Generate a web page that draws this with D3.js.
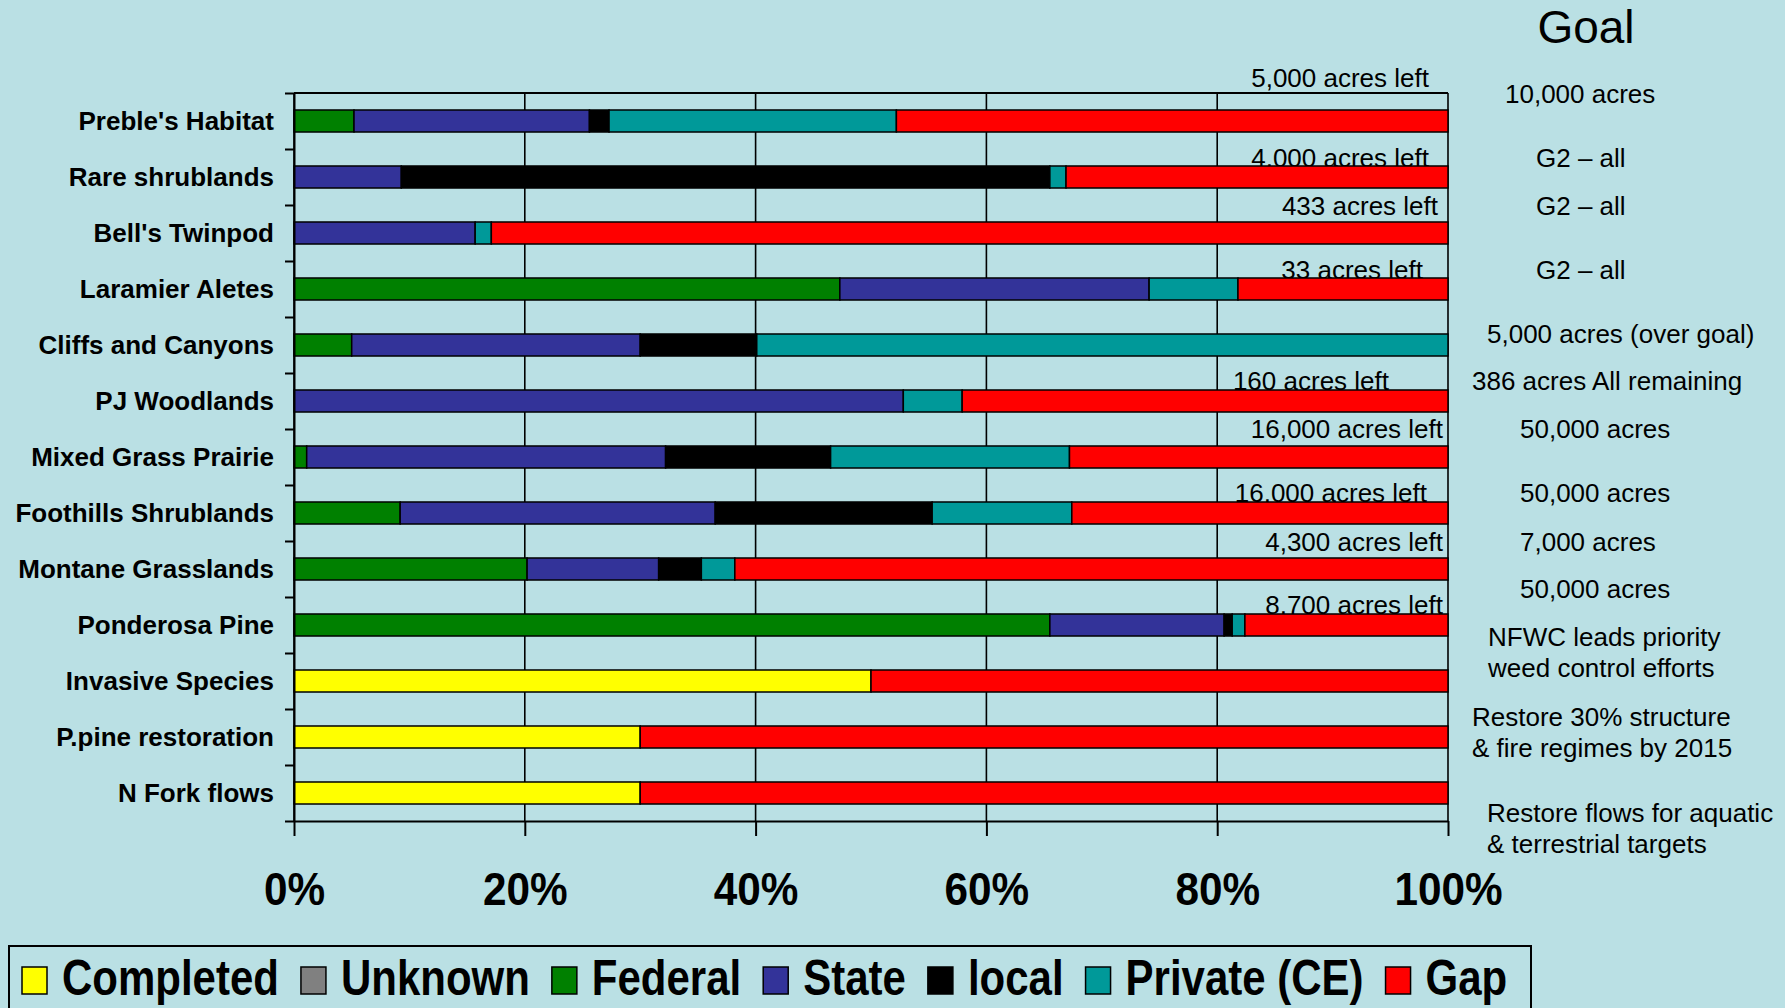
<!DOCTYPE html>
<html>
<head>
<meta charset="utf-8">
<script src="https://cdn.jsdelivr.net/npm/d3@7"></script>
<style>
  body { margin: 0; background: #bae0e4; }
  svg { display: block; font-family: "Liberation Sans", Arial, sans-serif; }
</style>
</head>
<body>
<script>
// categories, top to bottom
var categories = ["Preble's Habitat", "Rare shrublands", "Bell's Twinpod", "Laramier Aletes",
  "Cliffs and Canyons", "PJ Woodlands", "Mixed Grass Prairie", "Foothills Shrublands",
  "Montane Grasslands", "Ponderosa Pine", "Invasive Species", "P.pine restoration", "N Fork flows"];

// series (percent of each row)
var seriesNames = ["Completed", "Unknown", "Federal", "State", "local", "Private (CE)", "Gap"];
var completed = [0, 0, 0, 0, 0, 0, 0, 0, 0, 0, 50, 30, 30];
var unknown   = [0, 0, 0, 0, 0, 0, 0, 0, 0, 0, 0, 0, 0];
var federal   = [5.2, 0, 0, 47.3, 5.0, 0, 1.1, 9.2, 20.2, 65.5, 0, 0, 0];
var state     = [20.4, 9.3, 15.7, 26.8, 25.0, 52.8, 31.1, 27.3, 11.4, 15.1, 0, 0, 0];
var local     = [1.7, 56.2, 0, 0, 10.1, 0, 14.3, 18.8, 3.7, 0.7, 0, 0, 0];
var privateCE = [24.9, 1.4, 1.4, 7.7, 59.9, 5.1, 20.7, 12.1, 2.9, 1.1, 0, 0, 0];
var gap       = [47.8, 33.1, 82.9, 18.2, 0, 42.1, 32.8, 32.6, 61.8, 17.6, 50, 70, 70];
var seriesColors = ["#ffff00", "#808080", "#008000", "#333399", "#000000", "#009999", "#ff0000"];

var xTickValues = [0, 20, 40, 60, 80, 100];
var xTickLabels = ["0%", "20%", "40%", "60%", "80%", "100%"];

// annotations
var acresLeft = ["5,000 acres left", "4,000 acres left", "433 acres left", "33 acres left", null,
  "160 acres left", "16,000 acres left", "16,000 acres left", "4,300 acres left", "8,700 acres left",
  null, null, null];
var goalTitle = "Goal";
var goalText = [["10,000 acres"], ["G2 \u2013 all"], ["G2 \u2013 all"], ["G2 \u2013 all"],
  ["5,000 acres (over goal)"], ["386 acres All remaining"], ["50,000 acres"], ["50,000 acres"],
  ["7,000 acres"], ["50,000 acres"], ["NFWC leads priority", "weed control efforts"],
  ["Restore 30% structure", "& fire regimes by 2015"], ["Restore flows for aquatic", "& terrestrial targets"]];

// layout tweaks for the annotations (pixels)
var leftDx = [-19, -19, -10, -25, 0, -59, -5, -21, -5, -5, 0, 0, 0];   // from 100% line
var leftDy = [-23, 1, -7, 1, 0, 0, -8, 0, -7, 0, 0, 0, 0];           // from bar top
var goalX = [1505, 1536, 1536, 1536, 1487, 1472, 1520, 1520, 1520, 1520, 1488, 1472, 1487];
var goalY = [103, 167, 215, 279, 343, 390, 438, 502, 551, 598, 646, 726, 822];

var W = 1785, H = 1008;
var margin = {top: 93, left: 294, right: 1448, bottom: 821};

var svg = d3.select("body").append("svg")
  .attr("width", W)
  .attr("height", H);

svg.append("rect").attr("width", W).attr("height", H).attr("fill", "#bae0e4");

var x = d3.scaleLinear().domain([0, 100]).range([margin.left, margin.right]);
var y = d3.scaleBand().domain(categories).range([margin.top, margin.bottom])
  .paddingInner(0.607).paddingOuter(0.3035);

// build rows for the stack
var cols = [completed, unknown, federal, state, local, privateCE, gap];
var rows = categories.map(function(c, i) {
  var r = {cat: c};
  seriesNames.forEach(function(s, j) { r[s] = cols[j][i]; });
  return r;
});
var stacked = d3.stack().keys(seriesNames)(rows);

// gridlines
svg.append("g")
  .selectAll("line")
  .data(xTickValues)
  .join("line")
  .attr("x1", function(d) { return x(d); })
  .attr("x2", function(d) { return x(d); })
  .attr("y1", margin.top)
  .attr("y2", margin.bottom)
  .attr("stroke", "#000")
  .attr("stroke-width", 1.6);

// top border
svg.append("line")
  .attr("x1", margin.left).attr("x2", margin.right)
  .attr("y1", margin.top).attr("y2", margin.top)
  .attr("stroke", "#000").attr("stroke-width", 2);

// "acres left" text sits behind the bars
svg.append("g")
  .selectAll("text")
  .data(categories.map(function(c, i) { return {cat: c, t: acresLeft[i], i: i}; })
    .filter(function(d) { return d.t; }))
  .join("text")
  .attr("x", function(d) { return x(100) + leftDx[d.i]; })
  .attr("y", function(d) { return y(d.cat) + leftDy[d.i]; })
  .attr("text-anchor", "end")
  .attr("font-size", 26)
  .attr("fill", "#000")
  .text(function(d) { return d.t; });

// bars
svg.append("g")
  .selectAll("g")
  .data(stacked)
  .join("g")
  .attr("fill", function(d, i) { return seriesColors[i]; })
  .selectAll("rect")
  .data(function(d) { return d.filter(function(p) { return p[1] - p[0] > 0; }); })
  .join("rect")
  .attr("x", function(d) { return x(d[0]); })
  .attr("y", function(d) { return y(d.data.cat); })
  .attr("width", function(d) { return x(d[1]) - x(d[0]); })
  .attr("height", y.bandwidth())
  .attr("stroke", "#000")
  .attr("stroke-width", 1.5);

// y axis with ticks at band boundaries
var yb = d3.scaleLinear().domain([0, categories.length]).range([margin.top, margin.bottom]);
svg.append("g")
  .attr("transform", "translate(" + margin.left + ",0)")
  .call(d3.axisLeft(yb).ticks(categories.length).tickFormat("").tickSize(9).tickSizeOuter(0))
  .call(function(g) {
    g.select(".domain").attr("stroke-width", 2);
    g.selectAll(".tick line").attr("stroke-width", 2);
  });

// category labels
svg.append("g")
  .selectAll("text")
  .data(categories)
  .join("text")
  .attr("x", 274)
  .attr("y", function(d) { return y(d) + y.bandwidth() / 2 + 9; })
  .attr("text-anchor", "end")
  .attr("font-size", 26)
  .attr("font-weight", "bold")
  .attr("fill", "#000")
  .text(function(d) { return d; });

// x axis
svg.append("g")
  .attr("transform", "translate(0," + margin.bottom + ")")
  .call(d3.axisBottom(x).tickValues(xTickValues)
    .tickFormat(function(d, i) { return xTickLabels[i]; })
    .tickSize(15).tickSizeOuter(0))
  .call(function(g) {
    g.select(".domain").attr("stroke-width", 2);
    g.selectAll(".tick line").attr("stroke-width", 2);
    g.selectAll(".tick text")
      .attr("y", 84).attr("dy", 0)
      .attr("font-size", 47)
      .attr("font-weight", "bold")
      .attr("font-family", "Liberation Sans, Arial, sans-serif")
      .attr("fill", "#000")
      .attr("transform", "scale(0.9,1)");
  });

// Goal column
svg.append("text")
  .attr("x", 1586).attr("y", 43)
  .attr("text-anchor", "middle")
  .attr("font-size", 46)
  .attr("fill", "#000")
  .text(goalTitle);

var goal = svg.append("g")
  .selectAll("text")
  .data(goalText)
  .join("text")
  .attr("font-size", 26)
  .attr("fill", "#000");
goal.selectAll("tspan")
  .data(function(d, i) { return d.map(function(t) { return {t: t, i: i}; }); })
  .join("tspan")
  .attr("x", function(d) { return goalX[d.i]; })
  .attr("y", function(d, k) { return goalY[d.i] + k * 31; })
  .text(function(d) { return d.t; });

// legend
var legend = svg.append("g");
legend.append("rect")
  .attr("x", 9).attr("y", 946)
  .attr("width", 1522).attr("height", 80)
  .attr("fill", "none")
  .attr("stroke", "#000")
  .attr("stroke-width", 2);

var lx = 22;
seriesNames.forEach(function(name, i) {
  legend.append("rect")
    .attr("x", lx).attr("y", 967)
    .attr("width", 25).attr("height", 27)
    .attr("fill", seriesColors[i])
    .attr("stroke", "#000")
    .attr("stroke-width", 1.5);
  var t = legend.append("text")
    .attr("transform", "translate(" + (lx + 40) + ",995) scale(0.84,1)")
    .attr("font-size", 50)
    .attr("font-weight", "bold")
    .attr("fill", "#000")
    .text(name);
  var w = t.node().getComputedTextLength() * 0.84;
  lx += 40 + w + 22;
});
</script>
</body>
</html>
